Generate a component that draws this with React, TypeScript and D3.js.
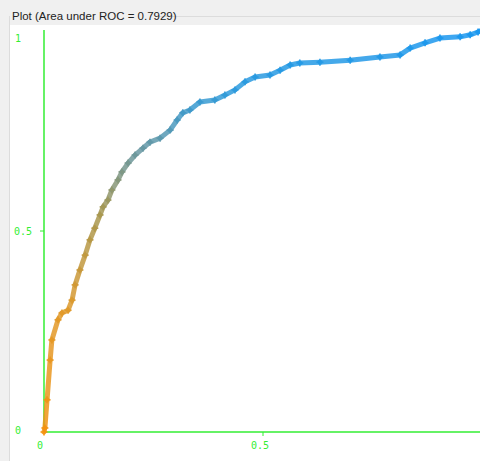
import React from "react";
import * as d3 from "d3";

const fpr = [0, 0.002, 0.007, 0.014, 0.018, 0.032, 0.041, 0.055, 0.064, 0.071, 0.082, 0.094, 0.105, 0.116, 0.128, 0.135, 0.146, 0.155, 0.169, 0.178, 0.192, 0.208, 0.226, 0.242, 0.265, 0.288, 0.304, 0.317, 0.333, 0.356, 0.39, 0.413, 0.436, 0.459, 0.482, 0.516, 0.539, 0.562, 0.584, 0.63, 0.699, 0.767, 0.813, 0.836, 0.87, 0.904, 0.95, 0.973, 0.991, 1];
const tpr = [0, 0.01, 0.08, 0.179, 0.229, 0.279, 0.296, 0.303, 0.328, 0.366, 0.403, 0.44, 0.478, 0.507, 0.54, 0.56, 0.577, 0.602, 0.627, 0.647, 0.669, 0.689, 0.706, 0.721, 0.731, 0.751, 0.776, 0.794, 0.801, 0.821, 0.826, 0.838, 0.851, 0.871, 0.883, 0.888, 0.9, 0.913, 0.918, 0.92, 0.925, 0.933, 0.938, 0.955, 0.968, 0.98, 0.983, 0.988, 0.995, 1];
const yTicks = [0, 0.5, 1];
const xTicks = [0, 0.5];
const title = "Plot (Area under ROC = 0.7929)";

export default function App() {
  const W = 480, H = 461;
  const x = d3.scaleLinear().domain([0, 1]).range([44, 482]);
  const y = d3.scaleLinear().domain([0, 1]).range([432, 30]);
  const color = d3.scaleLinear<string>()
    .domain([0, 0.3, 0.55, 0.7, 0.85, 1])
    .range(["#f5920f", "#e29a2a", "#a89850", "#6a98a0", "#2f9bdc", "#1a98f0"]);
  const axisColor = "#33ee33";
  const pts = fpr.map((f, i) => [f, tpr[i]] as [number, number]);
  const segs = pts.slice(1).map((p, i) => {
    const a = pts[i];
    return d3.line<[number, number]>().x(d => x(d[0])).y(d => y(d[1]))([a, p]) as string;
  });
  return (
    <svg width={W} height={H} style={{ position: "absolute", left: 0, top: 0 }}>
      <rect x={0} y={0} width={W} height={H} fill="#ffffff" />
      <rect x={0} y={0} width={W} height={25} fill="#f0f0f0" />
      <rect x={0} y={0} width={9} height={H} fill="#f0f0f0" />
      <line x1={9.5} x2={9.5} y1={16} y2={H} stroke="#dcdcdc" />
      <line x1={156} x2={W} y1={16.5} y2={16.5} stroke="#dcdcdc" />
      <text x={12} y={20} fontFamily="'Liberation Sans', Arial, sans-serif" fontSize={11.5} fill="#222">{title}</text>
      <line x1={44} x2={44} y1={30} y2={432} stroke={axisColor} strokeWidth={1.5} />
      <line x1={44} x2={W} y1={432} y2={432} stroke={axisColor} strokeWidth={1.5} />
      {yTicks.map(t => (
        <g key={"y" + t}>
          {t === 0.5 && <line x1={40} x2={44} y1={y(t)} y2={y(t)} stroke={axisColor} />}
          <text x={t === 0.5 ? 14 : 15} y={t === 1 ? 42 : t === 0 ? 434 : y(t) + 4}
            fontFamily="'DejaVu Sans Mono', monospace" fontSize={10} fill={axisColor}>{String(t)}</text>
        </g>
      ))}
      {xTicks.map(t => (
        <g key={"x" + t}>
          {t === 0.5 && <line x1={x(t)} x2={x(t)} y1={432} y2={436} stroke={axisColor} />}
          <text x={x(t) - (t === 0 ? 7 : 12)} y={449}
            fontFamily="'DejaVu Sans Mono', monospace" fontSize={10} fill={axisColor}>{String(t)}</text>
        </g>
      ))}
      {segs.map((d, i) => (
        <path key={"s" + i} d={d} fill="none" stroke={color(tpr[i + 1])} strokeWidth={5} strokeLinecap="round" opacity={0.85} />
      ))}
      {pts.map((p, i) => (
        <g key={"p" + i} stroke={color(p[1])} strokeWidth={1.5}>
          <line x1={x(p[0]) - 3.5} x2={x(p[0]) + 3.5} y1={y(p[1])} y2={y(p[1])} />
          <line x1={x(p[0])} x2={x(p[0])} y1={y(p[1]) - 3.5} y2={y(p[1]) + 3.5} />
        </g>
      ))}
    </svg>
  );
}
